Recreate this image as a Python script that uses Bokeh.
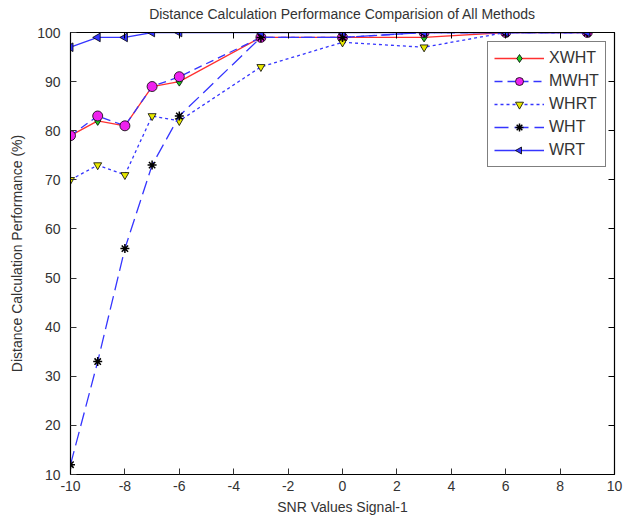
import math
from bokeh.plotting import figure
from bokeh.models import Range1d, LinearAxis, Legend, LegendItem, FixedTicker, CustomJSTickFormatter, ColumnDataSource
from bokeh.embed import file_html
from bokeh.resources import INLINE

snr = [-10, -9, -8, -7, -6, -3, 0, 3, 6, 9]
xwht = [79, 82, 81, 89, 90, 99, 99, 99, 100, 100]
mwht = [79, 83, 81, 89, 91, 99, 99, 100, 100, 100]
whrt = [70, 73, 71, 83, 82, 93, 98, 97, 100, 100]
wht = [12, 33, 56, 73, 83, 99, 99, 100, 100, 100]
wrt = [97, 99, 99, 100, 100, 100, 100, 100, 100, 100]
x_ticks = [-10, -8, -6, -4, -2, 0, 2, 4, 6, 8, 10]
y_ticks = [10, 20, 30, 40, 50, 60, 70, 80, 90, 100]
title_text = "Distance Calculation Performance Comparision of All Methods"

FONT = "Liberation Sans"
TXT = "#333333"

p = figure(width=624, height=519, output_backend="svg", toolbar_location=None,
           x_range=Range1d(-10, 10), y_range=Range1d(10, 100),
           min_border_left=70, min_border_right=10, min_border_top=32, min_border_bottom=45)

p.xgrid.visible = False
p.ygrid.visible = False
p.outline_line_color = "black"
p.outline_line_width = 1.2

for ax in p.xaxis + p.yaxis:
    ax.major_tick_in = 6
    ax.major_tick_out = 0
    ax.minor_tick_in = 0
    ax.minor_tick_out = 0
    ax.axis_line_color = "black"
    ax.major_tick_line_color = "#333333"
    ax.major_label_text_font = FONT
    ax.major_label_text_font_size = "14px"
    ax.major_label_text_font_style = "normal"
    ax.major_label_text_color = TXT
    ax.axis_label_text_font = FONT
    ax.axis_label_text_font_size = "14px"
    ax.axis_label_text_font_style = "normal"
    ax.axis_label_text_color = TXT
p.xaxis.ticker = FixedTicker(ticks=x_ticks)
p.yaxis.ticker = FixedTicker(ticks=y_ticks)
p.xaxis.major_label_overrides = {t: str(t) for t in x_ticks}
p.yaxis.major_label_overrides = {t: str(t) for t in y_ticks}
p.xaxis.axis_label = "SNR Values Signal-1"
p.yaxis.axis_label = "Distance Calculation Performance (%)"
p.xaxis.major_label_standoff = 6
p.yaxis.major_label_standoff = 10
p.xaxis.axis_label_standoff = 5
p.yaxis.axis_label_standoff = 9

blank = CustomJSTickFormatter(code="return '';")
top = LinearAxis(ticker=FixedTicker(ticks=x_ticks), formatter=blank,
                 major_tick_in=6, major_tick_out=0, minor_tick_in=0, minor_tick_out=0,
                 major_label_standoff=0, axis_label=title_text,
                 axis_label_text_font=FONT, axis_label_text_font_size="14px",
                 axis_label_text_font_style="normal", axis_label_text_color=TXT,
                 axis_label_standoff=11)
right = LinearAxis(ticker=FixedTicker(ticks=y_ticks), formatter=blank,
                   major_tick_in=6, major_tick_out=0, minor_tick_in=0, minor_tick_out=0)
p.add_layout(top, "above")
p.add_layout(right, "right")

BLUE = "#3535ff"
RED = "#ff3030"

items = []
r1 = p.line(snr, xwht, line_color=RED, line_width=1.3)
m1 = p.scatter(snr, xwht, marker="diamond", size=9, fill_color="#22cc22", line_color="black", line_width=0.8)
items.append(LegendItem(label="XWHT", renderers=[r1, m1]))

r2 = p.line(snr, mwht, line_color=BLUE, line_width=1.3, line_dash="8 5")
m2 = p.scatter(snr, mwht, marker="circle", size=10, fill_color="#ee22ee", line_color="black", line_width=0.8)
items.append(LegendItem(label="MWHT", renderers=[r2, m2]))

r3 = p.line(snr, whrt, line_color=BLUE, line_width=1.3, line_dash="3 3")
m3 = p.scatter(snr, whrt, marker="inverted_triangle", size=8, fill_color="#e8e800", line_color="black", line_width=0.8)
items.append(LegendItem(label="WHRT", renderers=[r3, m3]))

r4 = p.line(snr, wht, line_color=BLUE, line_width=1.3, line_dash="14 6")
m4 = p.scatter(snr, wht, marker="asterisk", size=9, line_color="black", line_width=1.5)
items.append(LegendItem(label="WHT", renderers=[r4, m4]))

wrt_src = ColumnDataSource(dict(x=snr, y=wrt))
r5 = p.line(snr, wrt, line_color=BLUE, line_width=1.3)
try:
    m5 = p.ngon(x="x", y="y", source=wrt_src, radius=5, radius_units="screen", n=3, angle=math.pi / 2,
                fill_color=BLUE, line_color="black", line_width=0.8)
except Exception:
    m5 = p.scatter("x", "y", source=wrt_src, marker="triangle", size=8,
                   fill_color=BLUE, line_color="black", line_width=0.8)
items.append(LegendItem(label="WRT", renderers=[r5, m5]))

legend = Legend(items=items, location=(417, 307), label_text_font=FONT,
                label_text_font_size="16px", label_text_color=TXT,
                border_line_color="black", border_line_width=1.2,
                background_fill_color="white", background_fill_alpha=1,
                glyph_width=50, glyph_height=20, spacing=3, padding=6, margin=0,
                label_standoff=5)
p.add_layout(legend)

open("out.html", "w").write(file_html(p, INLINE))
